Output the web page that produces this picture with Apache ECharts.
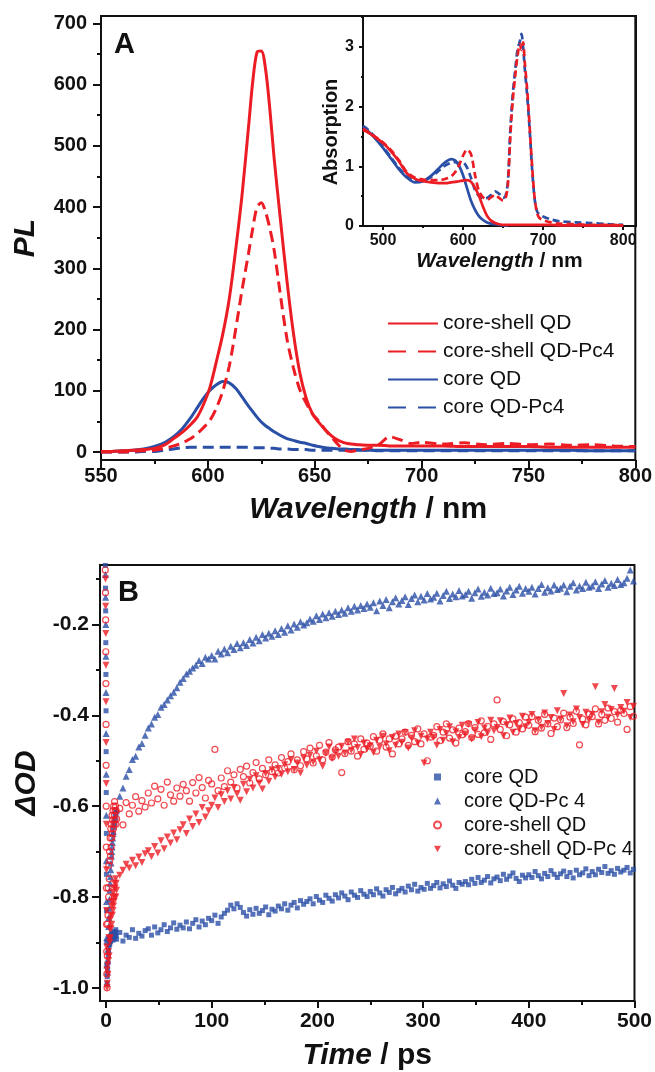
<!DOCTYPE html>
<html>
<head>
<meta charset="utf-8">
<script src="https://cdn.jsdelivr.net/npm/echarts@6/dist/echarts.min.js"></script>
<style>
  html, body { margin: 0; padding: 0; background: #fff; }
  #chart { width: 655px; height: 1072px; }
</style>
</head>
<body>
<div id="chart"></div>
<script>
// ---------- Panel A: photoluminescence spectra ----------
const wavelengthPL = [550,555,560,565,570,575,580,584,588,592,595,598,601,604,607,610,613,616,619,621,623,625,627,629,631,634,637,640,643,646,649,652,655,658,661,664,667,670,675,680,685,690,695,700,710,720,730,740,750,760,770,780,790,800];
const plCoreShell    = [1,1,2,3,4,6,12,22,32,45,57,78,106,148,193,250,330,420,530,605,653,655,625,560,480,378,280,195,130,88,62,48,36,26,19,15,13,12,11,11,10,10,10,10,10,9,9,9,9,8,8,8,8,8];
const plCoreShellPc4 = [0,0,0,1,2,3,6,10,15,22,30,40,52,72,100,140,200,265,324,365,400,407,392,365,330,255,185,138,102,80,62,50,36,24,12,3,1,3,6,12,25,20,14,16,13,15,12,14,12,13,11,12,10,9];
const plCore         = [1,1,2,3,5,9,16,25,38,56,72,88,101,110,115,113,104,90,75,66,57,49,43,38,33,27,22,19,16,14,11,9,7,6,5,5,4,4,3,3,3,3,3,3,3,3,3,3,3,3,3,2,2,2];
const plCorePc4      = [0,0,0,0,1,1,3,5,7,8,8,8,8,8,8,8,8,8,8,7,7,7,7,6,6,5,5,4,4,4,3,3,3,3,3,3,3,3,3,2,2,2,2,2,2,2,2,2,2,2,2,2,2,2];
const plYLabels = [0,100,200,300,400,500,600,700];
const plYMinor  = [50,150,250,350,450,550,650];

// ---------- Inset: absorption spectra ----------
const wavelengthAbs = [475,480,490,500,510,520,530,540,550,560,570,575,580,585,590,595,600,605,610,615,620,625,630,635,640,645,650,653,656,659,662,665,668,671,673,675,677,680,683,686,689,692,695,700,710,720,740,760,780,800];
const absCore = [1.66,1.61,1.47,1.31,1.13,0.95,0.81,0.73,0.75,0.84,
                 0.97,1.04,1.09,1.12,1.10,1.01,0.85,0.63,0.42,0.27,
                 0.16,0.10,0.06,0.04,0.03,0.02,0.01,0.01,0.00,null,
                 null,null,null,null,null,null,null,null,null,null,
                 null,null,null,null,null,null,null,null,null,null];
const absCorePc4 = [1.68,1.63,1.49,1.33,1.15,0.97,0.83,0.75,0.76,0.82,
                    0.93,0.99,1.03,1.06,1.07,1.05,1.06,0.98,0.80,0.60,
                    0.50,0.46,0.47,0.52,0.58,0.54,0.47,0.50,0.75,1.60,
                    2.20,2.60,2.95,3.10,3.22,3.00,2.65,2.20,1.65,1.00,
                    0.50,0.26,0.20,0.16,0.11,0.08,0.06,0.05,0.03,0.02];
const absCoreShell = [1.61,1.58,1.49,1.39,1.25,1.08,0.88,0.79,0.75,0.73,
                      0.72,0.72,0.72,0.73,0.74,0.75,0.76,0.77,0.74,0.64,
                      0.50,0.32,0.17,0.09,0.05,0.03,0.02,0.02,0.02,0.02,
                      0.02,0.02,0.02,0.02,0.02,0.02,0.02,0.02,0.02,0.02,
                      0.02,0.02,0.02,0.02,0.02,0.01,0.01,0.01,0.01,0.01];
const absCoreShellPc4 = [1.63,1.59,1.50,1.40,1.27,1.10,0.90,0.81,0.78,0.77,
                         0.77,0.78,0.80,0.83,0.90,1.02,1.18,1.28,1.20,0.85,
                         0.58,0.48,0.44,0.48,0.52,0.47,0.43,0.46,0.70,1.50,
                         2.10,2.50,2.85,3.05,2.95,3.08,2.75,2.30,1.70,1.05,
                         0.52,0.24,0.14,0.10,0.06,0.04,0.03,0.02,0.02,0.01];
const absXLabels = [500,600,700,800];
const absXMinor  = [550,650,750];
const absYLabels = [0,1,2,3];
const absYMinor  = [0.5,1.5,2.5,3.5];

// ---------- Panel B: transient absorption kinetics ----------
const timeRise = [-0.9,-0.7,-0.5,-0.35,-0.2,-0.1,0,0.1,0.2,0.3,0.4,0.5,0.65,0.8,1.0];
const timeFast = [1.2,1.5,1.8,2.1,2.4,2.7,3.0,3.3,3.6,3.9,4.2,4.5,4.8,5.1,5.4,5.7,6.0,6.3,6.6,6.9,7.2,7.5,7.8,8.1,8.4,8.7,9.0,9.3,9.6];
const timeTail = [10,13,16,19,22,25,28,31,34,37,40,43,46,49,52,55,58,61,64,67,
                  70,73,76,79,82,85,88,91,94,97,100,103,106,109,112,115,118,121,124,127,
                  130,133,136,139,142,145,148,151,154,157,160,163,166,169,172,175,178,181,184,187,
                  190,193,196,199,202,205,208,211,214,217,220,223,226,229,232,235,238,241,244,247,
                  250,253,256,259,262,265,268,271,274,277,280,283,286,289,292,295,298,301,304,307,
                  310,313,316,319,322,325,328,331,334,337,340,343,346,349,352,355,358,361,364,367,
                  370,373,376,379,382,385,388,391,394,397,400,403,406,409,412,415,418,421,424,427,
                  430,433,436,439,442,445,448,451,454,457,460,463,466,469,472,475,478,481,484,487,
                  490,493,496,499];

const odCoreRise = [-.03,-.07,-.12,-.17,-.24,-.31,-.39,-.48,-.57,-.66,-.75,-.83,-.90,-.95,-.99];
const odCoreFast = [-.975,-.96,-.945,-.93,-.92,-.91,-.905,-.897,-.903,-.89,-.898,-.886,-.894,-.882,-.891,
                    -.879,-.888,-.884,-.895,-.881,-.889,-.877,-.892,-.883,-.876,-.887,-.880,-.872,-.885];
const odCoreTail = [
  -.893,-.878,-.897,-.884,-.889,-.872,-.891,-.880,-.886,-.874,
  -.870,-.884,-.866,-.879,-.872,-.861,-.876,-.868,-.857,-.871,
  -.862,-.868,-.855,-.870,-.858,-.850,-.866,-.853,-.861,-.847,
  -.852,-.840,-.858,-.844,-.836,-.829,-.818,-.826,-.815,-.823,
  -.834,-.842,-.828,-.838,-.825,-.836,-.830,-.822,-.839,-.827,
  -.831,-.820,-.826,-.815,-.829,-.818,-.812,-.824,-.808,-.816,
  -.810,-.804,-.815,-.799,-.807,-.812,-.796,-.803,-.809,-.795,
  -.802,-.791,-.798,-.806,-.789,-.796,-.801,-.786,-.794,-.799,
  -.788,-.795,-.782,-.791,-.798,-.784,-.790,-.779,-.793,-.786,
  -.781,-.789,-.776,-.784,-.772,-.787,-.779,-.783,-.770,-.781,
  -.775,-.768,-.780,-.771,-.777,-.765,-.774,-.781,-.768,-.772,
  -.766,-.773,-.761,-.770,-.757,-.768,-.763,-.755,-.769,-.760,
  -.756,-.764,-.750,-.761,-.754,-.747,-.759,-.766,-.752,-.758,
  -.751,-.757,-.744,-.753,-.760,-.748,-.755,-.742,-.750,-.757,
  -.749,-.743,-.755,-.746,-.758,-.741,-.751,-.747,-.738,-.753,
  -.744,-.751,-.739,-.746,-.733,-.748,-.742,-.750,-.737,-.745,
  -.741,-.735,-.747,-.739];

const odCorePc4Rise = [-.02,-.05,-.09,-.14,-.20,-.27,-.35,-.44,-.53,-.62,-.72,-.81,-.89,-.95,-.99];
const odCorePc4Fast = [-.965,-.94,-.915,-.89,-.865,-.845,-.825,-.805,-.785,-.77,-.755,-.74,-.725,-.71,-.70,
                       -.69,-.68,-.67,-.66,-.655,-.645,-.64,-.635,-.63,-.625,-.62,-.615,-.61,-.61];
const odCorePc4Tail = [
  -.607,-.578,-.560,-.534,-.519,-.497,-.490,-.470,-.462,-.444,
  -.428,-.419,-.404,-.398,-.382,-.376,-.366,-.357,-.349,-.339,
  -.327,-.319,-.309,-.303,-.296,-.290,-.279,-.286,-.272,-.276,
  -.268,-.276,-.259,-.265,-.254,-.262,-.248,-.255,-.242,-.251,
  -.240,-.246,-.233,-.241,-.228,-.236,-.222,-.230,-.219,-.226,
  -.214,-.222,-.209,-.217,-.203,-.212,-.199,-.206,-.194,-.201,
  -.196,-.188,-.193,-.181,-.189,-.177,-.185,-.174,-.182,-.171,
  -.178,-.168,-.175,-.163,-.171,-.160,-.168,-.158,-.165,-.155,
  -.162,-.152,-.170,-.148,-.158,-.145,-.163,-.150,-.141,-.155,
  -.147,-.139,-.156,-.143,-.135,-.150,-.138,-.146,-.132,-.144,
  -.140,-.131,-.148,-.136,-.127,-.143,-.133,-.139,-.125,-.137,
  -.134,-.127,-.142,-.130,-.122,-.138,-.129,-.135,-.120,-.132,
  -.130,-.122,-.137,-.126,-.118,-.134,-.124,-.116,-.131,-.121,
  -.127,-.118,-.133,-.121,-.112,-.129,-.119,-.126,-.113,-.123,
  -.120,-.113,-.128,-.116,-.108,-.124,-.115,-.121,-.107,-.118,
  -.115,-.106,-.121,-.111,-.103,-.118,-.109,-.114,-.101,-.112,
  -.108,-.098,-.080,-.104];

const odShellRise = [-.04,-.08,-.13,-.19,-.26,-.33,-.42,-.51,-.60,-.69,-.78,-.86,-.92,-.97,-1.0];
const odShellFast = [-.93,-.86,-.84,-.78,-.80,-.73,-.76,-.70,-.72,-.67,-.71,-.65,-.69,-.64,-.67,
                     -.62,-.66,-.63,-.61,-.65,-.60,-.64,-.62,-.59,-.63,-.61,-.60,-.64,-.61];
const odShellTail = [
  -.628,-.605,-.641,-.592,-.617,-.598,-.579,-.611,-.588,-.602,
  -.571,-.593,-.556,-.584,-.563,-.598,-.547,-.575,-.589,-.560,
  -.578,-.552,-.566,-.589,-.548,-.571,-.537,-.559,-.582,-.543,
  -.551,-.475,-.566,-.538,-.557,-.522,-.547,-.531,-.560,-.519,
  -.535,-.512,-.549,-.526,-.504,-.540,-.517,-.531,-.498,-.524,
  -.509,-.527,-.493,-.516,-.502,-.485,-.520,-.498,-.511,-.480,
  -.496,-.472,-.505,-.489,-.466,-.498,-.481,-.460,-.492,-.476,
  -.470,-.526,-.484,-.458,-.479,-.463,-.490,-.452,-.475,-.461,
  -.468,-.447,-.479,-.455,-.441,-.470,-.452,-.485,-.446,-.463,
  -.452,-.437,-.466,-.444,-.458,-.430,-.463,-.441,-.500,-.448,
  -.444,-.425,-.456,-.437,-.419,-.450,-.432,-.461,-.428,-.443,
  -.436,-.418,-.449,-.427,-.442,-.412,-.438,-.424,-.453,-.419,
  -.366,-.431,-.414,-.445,-.421,-.408,-.437,-.416,-.430,-.404,
  -.422,-.403,-.436,-.411,-.428,-.398,-.419,-.440,-.406,-.425,
  -.410,-.395,-.427,-.404,-.418,-.391,-.465,-.408,-.421,-.397,
  -.403,-.386,-.419,-.398,-.411,-.384,-.407,-.392,-.415,-.389,
  -.396,-.431,-.381,-.402];

const odShellPc4Rise = [-.03,-.06,-.10,-.16,-.22,-.29,-.37,-.46,-.55,-.64,-.74,-.83,-.91,-.96,-1.0];
const odShellPc4Fast = [-.99,-.95,-.97,-.92,-.94,-.89,-.93,-.87,-.90,-.85,-.89,-.84,-.87,-.82,-.86,
                        -.81,-.84,-.80,-.83,-.79,-.82,-.78,-.81,-.77,-.80,-.78,-.76,-.80,-.77];
const odShellPc4Tail = [
  -.785,-.752,-.741,-.728,-.736,-.719,-.731,-.712,-.724,-.705,
  -.698,-.711,-.689,-.703,-.676,-.694,-.668,-.681,-.659,-.674,
  -.652,-.641,-.660,-.628,-.645,-.617,-.636,-.603,-.624,-.610,
  -.598,-.582,-.603,-.575,-.590,-.566,-.584,-.559,-.573,-.587,
  -.552,-.568,-.541,-.560,-.533,-.549,-.562,-.528,-.545,-.520,
  -.536,-.517,-.530,-.509,-.524,-.498,-.519,-.505,-.527,-.494,
  -.510,-.488,-.503,-.479,-.498,-.512,-.484,-.470,-.495,-.481,
  -.490,-.468,-.483,-.459,-.477,-.452,-.471,-.486,-.461,-.474,
  -.467,-.482,-.455,-.470,-.446,-.463,-.478,-.449,-.466,-.441,
  -.459,-.438,-.472,-.450,-.434,-.461,-.446,-.505,-.452,-.437,
  -.448,-.466,-.431,-.455,-.440,-.425,-.458,-.436,-.449,-.422,
  -.441,-.420,-.452,-.433,-.416,-.447,-.428,-.439,-.411,-.434,
  -.427,-.412,-.445,-.421,-.406,-.437,-.418,-.430,-.402,-.425,
  -.416,-.398,-.434,-.410,-.426,-.395,-.418,-.405,-.431,-.390,
  -.408,-.352,-.423,-.399,-.414,-.386,-.405,-.420,-.393,-.411,
  -.398,-.337,-.415,-.392,-.376,-.404,-.387,-.341,-.399,-.383,
  -.391,-.372,-.405,-.380];

const odYLabels = [-1.0,-0.8,-0.6,-0.4,-0.2];
const odYMinor  = [-0.9,-0.7,-0.5,-0.3,-0.1];
const timeLabels = [0,100,200,300,400,500];
const timeMinor  = [50,150,250,350,450];

// ---------- styling ----------
const FONT = '"Liberation Sans", Arial, Helvetica, sans-serif';
const INK = '#111111';
const RED = '#ec1c24';
const BLUE = '#2a4fa6';
const DOWN_TRIANGLE = 'path://M0,0 L10,0 L5,9 Z';

const zip = (xs, ys) => xs.map((x, i) => [x, ys[i] == null ? null : ys[i]]);
const kinetics = (rise, fast, tail) =>
  zip(timeRise, rise).concat(zip(timeFast, fast), zip(timeTail, tail));

function mainAxis(grid, pos, min, max, labels, tickLen, fontSize, margin, extra) {
  return Object.assign({
    type: 'value', gridIndex: grid, position: pos, min: min, max: max,
    axisLine: { show: true, onZero: false, lineStyle: { color: INK, width: 2 } },
    splitLine: { show: false },
    axisTick: { show: true, customValues: labels, length: tickLen, lineStyle: { color: INK, width: 2 } },
    axisLabel: { show: true, customValues: labels, fontFamily: FONT, fontWeight: 'bold',
                 color: INK, fontSize: fontSize, margin: margin }
  }, extra || {});
}
function minorAxis(grid, pos, min, max, values, tickLen) {
  return {
    type: 'value', gridIndex: grid, position: pos, min: min, max: max,
    axisLine: { show: false, onZero: false },
    splitLine: { show: false },
    axisLabel: { show: false },
    axisTick: { show: true, customValues: values, length: tickLen, lineStyle: { color: INK, width: 2 } }
  };
}
const titleStyle = (size) => ({
  fontFamily: FONT, fontWeight: 'bold', fontSize: size, color: INK,
  rich: { i: { fontFamily: FONT, fontWeight: 'bold', fontStyle: 'italic', fontSize: size, color: INK } }
});

const option = {
  animation: false,
  backgroundColor: '#ffffff',
  grid: [
    { left: 101, top: 16, width: 535, height: 444, show: true, borderColor: INK, borderWidth: 2, backgroundColor: 'transparent' },
    { left: 363, top: 16, width: 273, height: 210, show: true, borderColor: INK, borderWidth: 2, backgroundColor: 'transparent' },
    { left: 100, top: 565, width: 536, height: 437, show: true, borderColor: INK, borderWidth: 2, backgroundColor: 'transparent' }
  ],
  xAxis: [
    {
      type: 'value', gridIndex: 0, position: 'bottom', min: 550, max: 800, interval: 50,
      axisLine: { show: true, onZero: false, lineStyle: { color: INK, width: 2 } },
      splitLine: { show: false },
      axisTick: { show: true, length: 8, lineStyle: { color: INK, width: 2 } },
      minorTick: { show: true, splitNumber: 2, length: 4, lineStyle: { color: INK, width: 2 } },
      minorSplitLine: { show: false },
      axisLabel: { fontFamily: FONT, fontWeight: 'bold', color: INK, fontSize: 20, margin: 6 },
      name: '{i|Wavelength} / nm', nameLocation: 'middle', nameGap: 35,
      nameTextStyle: titleStyle(30)
    },
    mainAxis(1, 'bottom', 475, 816, absXLabels, 4, 16, 7, {
      name: '{i|Wavelength} / nm', nameLocation: 'middle', nameGap: 25, nameTextStyle: titleStyle(21)
    }),
    minorAxis(1, 'bottom', 475, 816, absXMinor, 2),
    mainAxis(2, 'bottom', -5.7, 500, timeLabels, 7, 21, 10, {
      name: '{i|Time} / ps', nameLocation: 'middle', nameGap: 40, nameTextStyle: titleStyle(30)
    }),
    minorAxis(2, 'bottom', -5.7, 500, timeMinor, 4)
  ],
  yAxis: [
    mainAxis(0, 'left', -13, 712, plYLabels, 8, 20, 14, {
      name: '{i|PL}', nameLocation: 'middle', nameGap: 60, nameRotate: 90, nameTextStyle: titleStyle(30)
    }),
    minorAxis(0, 'left', -13, 712, plYMinor, 4),
    mainAxis(1, 'left', 0, 3.52, absYLabels, 4, 16, 9, {
      name: 'Absorption', nameLocation: 'middle', nameGap: 22, nameRotate: 90,
      nameTextStyle: { fontFamily: FONT, fontWeight: 'bold', fontSize: 20, color: INK, padding: [0, 22, 0, 0] }
    }),
    minorAxis(1, 'left', 0, 3.52, absYMinor, 2),
    mainAxis(2, 'left', -1.029, -0.069, odYLabels, 8, 21, 11, {
      axisLabel: { show: true, customValues: odYLabels, fontFamily: FONT, fontWeight: 'bold', color: INK,
                   fontSize: 21, margin: 11, formatter: (v) => v.toFixed(1) },
      name: '{i|ΔOD}', nameLocation: 'middle', nameGap: 57, nameRotate: 90, nameTextStyle: titleStyle(30)
    }),
    minorAxis(2, 'left', -1.029, -0.069, odYMinor, 4)
  ],
  legend: [
    {
      left: 382, top: 308, orient: 'vertical', selectedMode: false,
      itemWidth: 50, itemHeight: 12, itemGap: 7,
      itemStyle: { opacity: 0 },
      textStyle: { fontFamily: FONT, fontSize: 21, color: INK, lineHeight: 20 },
      data: [
        { name: 'core-shell QD' },
        { name: 'core-shell QD-Pc4', lineStyle: { type: [18, 12] } },
        { name: 'core QD' },
        { name: 'core QD-Pc4', lineStyle: { type: [18, 12] } }
      ]
    },
    {
      left: 428, top: 762, orient: 'vertical', selectedMode: false,
      itemWidth: 7, itemHeight: 7, itemGap: 4,
      formatter: (name) => '{t|' + name.trim() + '}',
      textStyle: { fontFamily: FONT, fontSize: 20, color: INK, lineHeight: 20,
                   rich: { t: { fontFamily: FONT, fontSize: 20, color: INK, lineHeight: 20, padding: [0, 0, 0, 18] } } },
      data: ['core QD ', 'core QD-Pc 4', 'core-shell QD ', { name: 'core-shell QD-Pc 4', icon: DOWN_TRIANGLE }]
    }
  ],
  graphic: [
    { type: 'text', left: 114, top: 30, z: 100, style: { text: 'A', font: 'bold 29px ' + FONT, fill: INK } },
    { type: 'text', left: 118, top: 578, z: 100, style: { text: 'B', font: 'bold 29px ' + FONT, fill: INK } }
  ],
  series: [
    // Panel A
    { name: 'core-shell QD', type: 'line', xAxisIndex: 0, yAxisIndex: 0, data: zip(wavelengthPL, plCoreShell),
      symbol: 'none', showSymbol: false, smooth: 0.3, lineStyle: { color: RED, width: 3 }, itemStyle: { color: RED }, z: 5 },
    { name: 'core-shell QD-Pc4', type: 'line', xAxisIndex: 0, yAxisIndex: 0, data: zip(wavelengthPL, plCoreShellPc4),
      symbol: 'none', showSymbol: false, smooth: 0.3, lineStyle: { color: RED, width: 3, type: [11, 6] }, itemStyle: { color: RED }, z: 4 },
    { name: 'core QD', type: 'line', xAxisIndex: 0, yAxisIndex: 0, data: zip(wavelengthPL, plCore),
      symbol: 'none', showSymbol: false, smooth: 0.3, lineStyle: { color: BLUE, width: 3 }, itemStyle: { color: BLUE }, z: 3 },
    { name: 'core QD-Pc4', type: 'line', xAxisIndex: 0, yAxisIndex: 0, data: zip(wavelengthPL, plCorePc4),
      symbol: 'none', showSymbol: false, smooth: 0.3, lineStyle: { color: BLUE, width: 3, type: [11, 6] }, itemStyle: { color: BLUE }, z: 3 },

    // Inset
    { name: 'abs core QD', type: 'line', xAxisIndex: 1, yAxisIndex: 2, data: zip(wavelengthAbs, absCore),
      symbol: 'none', showSymbol: false, smooth: 0.3, lineStyle: { color: BLUE, width: 2.7 } },
    { name: 'abs core QD-Pc4', type: 'line', xAxisIndex: 1, yAxisIndex: 2, data: zip(wavelengthAbs, absCorePc4),
      symbol: 'none', showSymbol: false, smooth: 0.3, lineStyle: { color: BLUE, width: 2.7, type: [7, 4] } },
    { name: 'abs core-shell QD', type: 'line', xAxisIndex: 1, yAxisIndex: 2, data: zip(wavelengthAbs, absCoreShell),
      symbol: 'none', showSymbol: false, smooth: 0.3, lineStyle: { color: RED, width: 2.7 } },
    { name: 'abs core-shell QD-Pc4', type: 'line', xAxisIndex: 1, yAxisIndex: 2, data: zip(wavelengthAbs, absCoreShellPc4),
      symbol: 'none', showSymbol: false, smooth: 0.3, lineStyle: { color: RED, width: 2.7, type: [7, 4] } },

    // Panel B
    { name: 'core QD ', type: 'scatter', xAxisIndex: 3, yAxisIndex: 4,
      data: kinetics(odCoreRise, odCoreFast, odCoreTail),
      symbol: 'rect', symbolSize: 5, itemStyle: { color: BLUE } },
    { name: 'core QD-Pc 4', type: 'scatter', xAxisIndex: 3, yAxisIndex: 4,
      data: kinetics(odCorePc4Rise, odCorePc4Fast, odCorePc4Tail),
      symbol: 'triangle', symbolSize: 7, itemStyle: { color: BLUE } },
    { name: 'core-shell QD ', type: 'scatter', xAxisIndex: 3, yAxisIndex: 4,
      data: kinetics(odShellRise, odShellFast, odShellTail),
      symbol: 'circle', symbolSize: 6,
      itemStyle: { color: 'rgba(255,255,255,0)', borderColor: RED, borderWidth: 1.2 } },
    { name: 'core-shell QD-Pc 4', type: 'scatter', xAxisIndex: 3, yAxisIndex: 4,
      data: kinetics(odShellPc4Rise, odShellPc4Fast, odShellPc4Tail),
      symbol: 'triangle', symbolRotate: 180, symbolSize: 7, itemStyle: { color: RED } }
  ]
};

const chart = echarts.init(document.getElementById('chart'), null, { renderer: 'canvas' });
chart.setOption(option);
</script>
</body>
</html>
